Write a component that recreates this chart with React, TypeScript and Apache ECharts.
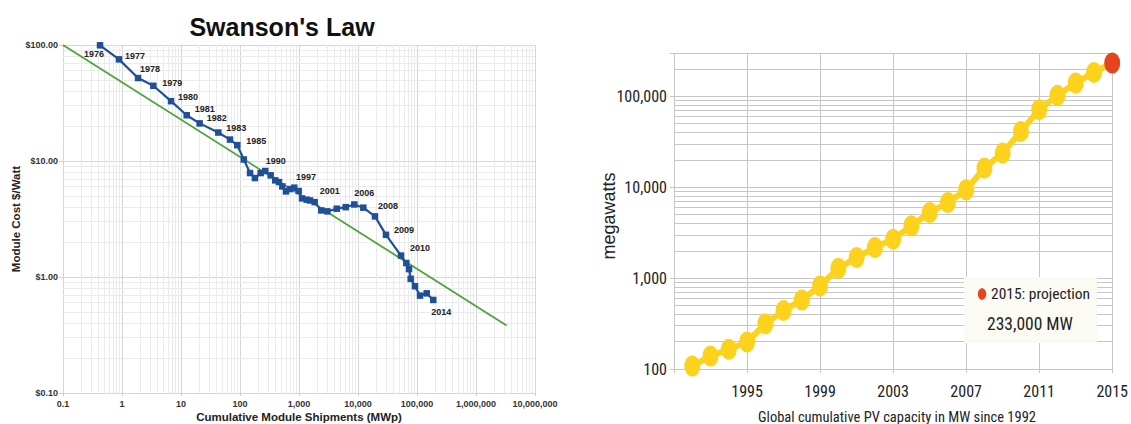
import React, { useEffect, useRef } from 'react';
import * as echarts from 'echarts';

// ---------- Left chart: Swanson's Law ----------
const swansonShipmentsMWp = [
  0.424, 0.889, 1.87, 3.4, 6.78, 12.5, 20.7, 42.9, 67.7, 90,
  116, 148, 179, 224, 268, 331, 396, 458, 521, 602,
  704, 832, 988, 1125, 1352, 1536, 1845, 2388, 3020, 4360,
  6190, 8660, 12300, 19400, 29800, 53600, 65900, 73200, 78200, 92500,
  112500, 146000, 188600,
];
const swansonCostPerWatt = [
  99.4, 75.2, 51.9, 44.5, 32.8, 24.8, 21.1, 17.6, 15.3, 13.7,
  10.3, 7.87, 7.13, 7.87, 8.2, 7.52, 6.81, 6.58, 6.04, 5.47,
  5.73, 5.89, 5.51, 4.76, 4.64, 4.57, 4.42, 3.75, 3.68, 3.88,
  4.0, 4.22, 3.96, 3.33, 2.31, 1.53, 1.32, 1.17, 0.964, 0.832,
  0.691, 0.723, 0.634,
];
const yearLabels = ['1976', '1977', '1978', '1979', '1980', '1981', '1982', '1983', '1985', '1990', '1997', '2001', '2006', '2008', '2009', '2010', '2014'];
const yearLabelPoint = [0, 1, 2, 3, 4, 5, 6, 7, 9, 13, 20, 26, 31, 33, 34, 35, 42];
const trendShipments = [0.1, 3.3e6];
const trendCost = [100, 0.382];
const leftTitle = "Swanson's Law";
const leftXName = 'Cumulative Module Shipments (MWp)';
const leftYName = 'Module Cost $/Watt';

// ---------- Right chart: global PV capacity ----------
const pvYears = ['1992', '1993', '1994', '1995', '1996', '1997', '1998', '1999', '2000', '2001', '2002', '2003', '2004', '2005', '2006', '2007', '2008', '2009', '2010', '2011', '2012', '2013', '2014', '2015'];
const pvCapacityMW = [108, 139, 165, 198, 315, 439, 575, 821, 1285, 1683, 2168, 2685, 3758, 5270, 6790, 9380, 16260, 23780, 41170, 71400, 102600, 140200, 183600, 233000];
const pvAxisYears = ['1991', ...pvYears];
const rightXName = 'Global cumulative PV capacity in MW since 1992';
const rightYName = 'megawatts';

// layout / style (not data)
const labelOffsets: [number, number][] = [
  [-6, 9], [16, -3], [12, -9], [19, -3], [17, -4], [18, -6], [17, -5], [18, -5], [19, -4],
  [15, -12], [16, -12], [15, -11], [10, -11], [13, -10], [18, -5], [19, -8], [8, 12],
];
const LS = "'Liberation Sans', Arial, sans-serif";
const NARROW = "'Liberation Sans Narrow', 'Arial Narrow', 'Roboto Condensed', sans-serif";
const BLUE = '#1f4f98';
const GREEN = '#4ea43a';
const YELLOW = '#fdd21c';
const RED = '#e8431f';
const ELLIPSE = 'path://M0,-1A1,1 0 1,1 0,1A1,1 0 1,1 0,-1Z';

function minorValues(minExp: number, maxExp: number): number[] {
  const out: number[] = [];
  for (let e = minExp; e < maxExp; e++) {
    for (let m = 2; m <= 9; m++) out.push(Number((m * Math.pow(10, e)).toPrecision(6)));
  }
  return out;
}
const clean = (v: number) => Number(Number(v).toPrecision(6));

export default function App() {
  const ref = useRef<HTMLDivElement>(null);
  useEffect(() => {
    if (!ref.current) return;
    const chart = echarts.init(ref.current, undefined, { renderer: 'svg' });

    const swansonData = swansonShipmentsMWp.map((x, i) => {
      const li = yearLabelPoint.indexOf(i);
      const item: any = { value: [x, swansonCostPerWatt[i]] };
      if (li >= 0) {
        item.label = { show: true, formatter: yearLabels[li], position: 'inside', offset: labelOffsets[li] };
      }
      return item;
    });

    const pvData = pvYears.map((y, i) => {
      const item: any = { value: [y, pvCapacityMW[i]] };
      if (i === pvYears.length - 1) item.itemStyle = { color: RED };
      return item;
    });

    const leftMinor = [
      ...minorValues(-1, 7).map((v) => ({ xAxis: v })),
      ...minorValues(-1, 2).map((v) => ({ yAxis: v })),
    ];
    const rightMinor = minorValues(2, 6).filter((v) => v <= 300000).map((v) => ({ yAxis: v }));

    const lastYear = pvYears[pvYears.length - 1];
    const lastVal = pvCapacityMW[pvCapacityMW.length - 1];

    chart.setOption({
      animation: false,
      backgroundColor: '#ffffff',
      title: {
        text: leftTitle,
        left: 277,
        top: 9,
        textAlign: 'center',
        textStyle: { fontSize: 25, fontWeight: 'bold', color: '#111', fontFamily: LS },
      },
      grid: [
        { left: 63, top: 45, width: 472, height: 348 },
        { left: 674, top: 53, width: 445, height: 316 },
      ],
      xAxis: [
        {
          type: 'log', gridIndex: 0, min: 0.1, max: 1e7, logBase: 10, splitNumber: 10,
          axisLine: { show: false },
          axisTick: { show: true, length: 3, lineStyle: { color: '#cfcfcf' } },
          axisLabel: {
            color: '#333', fontSize: 9, fontWeight: 'bold', fontFamily: LS, margin: 6,
            formatter: (v: number) => { const n = clean(v); return n < 1 ? String(n) : n.toLocaleString('en-US'); },
          },
          splitLine: { show: true, lineStyle: { color: '#d6d6d6', width: 1 } },
        },
        {
          type: 'category', gridIndex: 1, data: pvAxisYears, boundaryGap: false,
          axisLine: { show: false },
          axisTick: { show: true, interval: 3, length: 4, lineStyle: { color: '#c6c6c6' } },
          axisLabel: {
            interval: 3, color: '#222', fontSize: 16, fontFamily: NARROW, margin: 14,
            formatter: (v: string, i: number) => (i === 0 ? '' : v),
          },
          splitLine: { show: true, interval: 3, lineStyle: { color: '#c6c6c6', width: 1 } },
        },
      ],
      yAxis: [
        {
          type: 'log', gridIndex: 0, min: 0.1, max: 100, logBase: 10, splitNumber: 10,
          axisLine: { show: false },
          axisTick: { show: true, length: 4, lineStyle: { color: '#cfcfcf' } },
          axisLabel: {
            color: '#333', fontSize: 9, fontWeight: 'bold', fontFamily: LS, margin: 5,
            formatter: (v: number) => '$' + clean(v).toFixed(2),
          },
          splitLine: { show: true, lineStyle: { color: '#d6d6d6', width: 1 } },
        },
        {
          type: 'log', gridIndex: 1, min: 100, max: 300000, logBase: 10, splitNumber: 10,
          axisLine: { show: false },
          axisTick: { show: true, length: 4, lineStyle: { color: '#c6c6c6' } },
          axisLabel: {
            color: '#222', fontSize: 16, fontFamily: NARROW, margin: 7,
            formatter: (v: number) => {
              const n = clean(v);
              const e = Math.log10(n);
              return Math.abs(e - Math.round(e)) < 1e-6 ? n.toLocaleString('en-US') : '';
            },
          },
          splitLine: { show: true, lineStyle: { color: '#c6c6c6', width: 1 } },
        },
      ],
      series: [
        {
          name: 'trend', type: 'line', xAxisIndex: 0, yAxisIndex: 0, z: 2,
          data: trendShipments.map((x, i) => [x, trendCost[i]]),
          symbol: 'none', lineStyle: { color: GREEN, width: 1.8 }, silent: true,
          markLine: {
            silent: true, z: 1, symbol: ['none', 'none'], label: { show: false },
            emphasis: { disabled: true },
            lineStyle: { color: '#ebebeb', width: 1, type: 'solid' },
            data: leftMinor,
          },
        },
        {
          name: 'module cost', type: 'line', xAxisIndex: 0, yAxisIndex: 0, z: 3,
          data: swansonData,
          symbol: 'rect', symbolSize: 6.5, showAllSymbol: true,
          itemStyle: { color: BLUE },
          lineStyle: { color: BLUE, width: 2.2 },
          label: { show: false, fontSize: 9, fontWeight: 'bold', color: '#222', fontFamily: LS },
        },
        {
          name: 'PV capacity', type: 'line', xAxisIndex: 1, yAxisIndex: 1, z: 3,
          data: pvData,
          symbol: ELLIPSE, symbolSize: [16, 21], showAllSymbol: true,
          itemStyle: { color: YELLOW },
          lineStyle: { color: YELLOW, width: 6 },
          markLine: {
            silent: true, z: 1, symbol: ['none', 'none'], label: { show: false },
            emphasis: { disabled: true },
            lineStyle: { color: '#c6c6c6', width: 1, type: 'solid' },
            data: rightMinor,
          },
        },
      ],
      graphic: [
        // axis names
        {
          type: 'text', x: 299, y: 417,
          style: { text: leftXName, fill: '#222', fontSize: 11.5, fontWeight: 'bold', fontFamily: LS, align: 'center', verticalAlign: 'middle' },
        },
        {
          type: 'text', x: 16, y: 219, rotation: Math.PI / 2,
          style: { text: leftYName, fill: '#222', fontSize: 11.5, fontWeight: 'bold', fontFamily: LS, align: 'center', verticalAlign: 'middle' },
        },
        {
          type: 'text', x: 897, y: 417,
          style: { text: rightXName, fill: '#222', fontSize: 14.5, fontFamily: NARROW, align: 'center', verticalAlign: 'middle' },
        },
        {
          type: 'text', x: 609, y: 216, rotation: Math.PI / 2,
          style: { text: rightYName, fill: '#222', fontSize: 18, fontFamily: LS, align: 'center', verticalAlign: 'middle' },
        },
        // projection note
        { type: 'rect', z: 10, shape: { x: 964, y: 277, width: 133, height: 66 }, style: { fill: '#fbfaf3' } },
        { type: 'ellipse', z: 11, shape: { cx: 982, cy: 294, rx: 4.2, ry: 5.8 }, style: { fill: RED } },
        {
          type: 'text', z: 11, x: 991, y: 294,
          style: { text: `${lastYear}: projection`, fill: '#222', fontSize: 15.5, fontFamily: NARROW, verticalAlign: 'middle', align: 'left' },
        },
        {
          type: 'text', z: 11, x: 1030, y: 324,
          style: { text: `${lastVal.toLocaleString('en-US')} MW`, fill: '#222', fontSize: 17.5, fontFamily: NARROW, verticalAlign: 'middle', align: 'center' },
        },
      ],
    });
    return () => chart.dispose();
  }, []);
  return <div ref={ref} style={{ position: 'absolute', left: 0, top: 0, width: 1131, height: 424, background: '#fff' }} />;
}
